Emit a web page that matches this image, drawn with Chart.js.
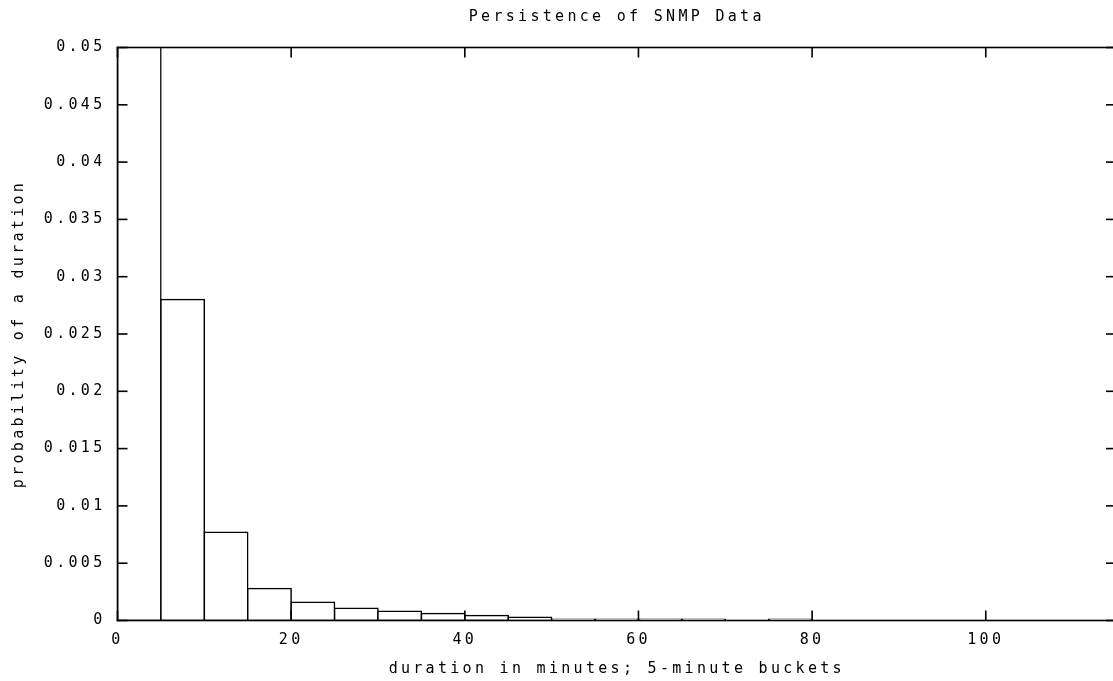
<!DOCTYPE html>
<html><head><meta charset="utf-8">
<script src="https://cdn.jsdelivr.net/npm/chart.js@4/dist/chart.umd.min.js"></script>
<style>html,body{margin:0;padding:0;background:#fff;overflow:hidden;width:1113px;height:681px}canvas{display:block}</style>
</head><body>
<canvas id="c" width="1116" height="681"></canvas>
<script>
// 5-minute bucket centres (minutes) and probability per bucket
const binCenters = [2.5, 7.5, 12.5, 17.5, 22.5, 27.5, 32.5, 37.5, 42.5, 47.5, 52.5, 57.5, 62.5, 67.5, 72.5, 77.5];
const probabilities = [0.155, 0.028, 0.0077, 0.0028, 0.0016, 0.00107, 0.00081, 0.00061, 0.00044, 0.00029, 0.0001, 0.0001, 0.0001, 0.0001, null, 0.0001];
const xTickLabels = ['0', '20', '40', '60', '80', '100'];
const yTickLabels = ['0', '0.005', '0.01', '0.015', '0.02', '0.025', '0.03', '0.035', '0.04', '0.045', '0.05'];
const chartTitle = 'Persistence of SNMP Data';
const xAxisTitle = 'duration in minutes; 5-minute buckets';
const yAxisTitle = 'probability of a duration';

const FONT = {family: '"DejaVu Sans Mono", monospace', size: 15};
const SPACING = '3.3px';

const spacingPlugin = {
  id: 'spacing',
  beforeUpdate(c) { c.ctx.letterSpacing = SPACING; },
  beforeLayout(c) { c.ctx.letterSpacing = SPACING; },
  beforeDraw(c) { c.ctx.letterSpacing = SPACING; }
};

const framePlugin = {
  id: 'frame',
  afterDraw(c) {
    const ctx = c.ctx, a = c.chartArea, xs = c.scales.x, ys = c.scales.y;
    const L = 10, W = 1.6;
    ctx.save();
    ctx.fillStyle = '#000';
    ctx.fillRect(a.left - W / 2, a.top - W / 2, a.right - a.left + W, W);
    ctx.fillRect(a.left - W / 2, a.bottom - W / 2, a.right - a.left + W, W);
    ctx.fillRect(a.left - W / 2, a.top - W / 2, W, a.bottom - a.top + W);
    ctx.fillRect(a.right - W / 2, a.top - W / 2, W, a.bottom - a.top + W);
    xs.ticks.forEach(t => {
      const px = xs.getPixelForValue(t.value);
      ctx.fillRect(px - W / 2, a.bottom - L, W, L);
      ctx.fillRect(px - W / 2, a.top, W, L);
    });
    ys.ticks.forEach(t => {
      const py = ys.getPixelForValue(t.value);
      ctx.fillRect(a.left, py - W / 2, L, W);
      ctx.fillRect(a.right - L, py - W / 2, L, W);
    });
    ctx.restore();
  }
};

new Chart(document.getElementById('c'), {
  type: 'bar',
  data: {
    datasets: [{
      data: binCenters.map((x, i) => ({x: x, y: probabilities[i]})),
      backgroundColor: '#ffffff',
      borderColor: '#000000',
      borderWidth: 1.5,
      borderSkipped: false,
      inflateAmount: 0.75,
      barPercentage: 1,
      categoryPercentage: 1,
      xAxisID: 'x',
      yAxisID: 'y'
    }]
  },
  options: {
    responsive: false,
    animation: false,
    devicePixelRatio: 1,
    layout: {padding: 0},
    plugins: {legend: {display: false}, tooltip: {enabled: false}, title: {display: false}},
    scales: {
      x: {
        type: 'linear', position: 'bottom', min: 0, max: 115, offset: false,
        grid: {display: false, drawTicks: false, offset: false},
        border: {display: false},
        ticks: {stepSize: 20, includeBounds: false, autoSkip: false, maxRotation: 0,
                font: FONT, color: '#000', padding: 11,
                callback: (v, i) => xTickLabels[i]},
        title: {display: true, text: xAxisTitle, font: FONT, color: '#000', padding: {top: 0, bottom: 3}},
        afterFit: s => { s.height = 60.5; }
      },
      x2: {
        type: 'linear', position: 'top', min: 0, max: 115, offset: false,
        grid: {display: false, drawTicks: false},
        border: {display: false},
        ticks: {display: false},
        title: {display: true, text: chartTitle, font: FONT, color: '#000', padding: {top: 8, bottom: 0}},
        afterFit: s => { s.height = 47.5; }
      },
      y: {
        type: 'linear', position: 'left', min: 0, max: 0.05,
        grid: {display: false, drawTicks: false},
        border: {display: false},
        ticks: {stepSize: 0.005, font: FONT, color: '#000', padding: 12,
                callback: (v, i) => yTickLabels[i]},
        title: {display: true, text: yAxisTitle, font: FONT, color: '#000', padding: {top: 10, bottom: 0}},
        afterFit: s => { s.width = 117.5; }
      }
    }
  },
  plugins: [spacingPlugin, framePlugin]
});
</script>
</body></html>
